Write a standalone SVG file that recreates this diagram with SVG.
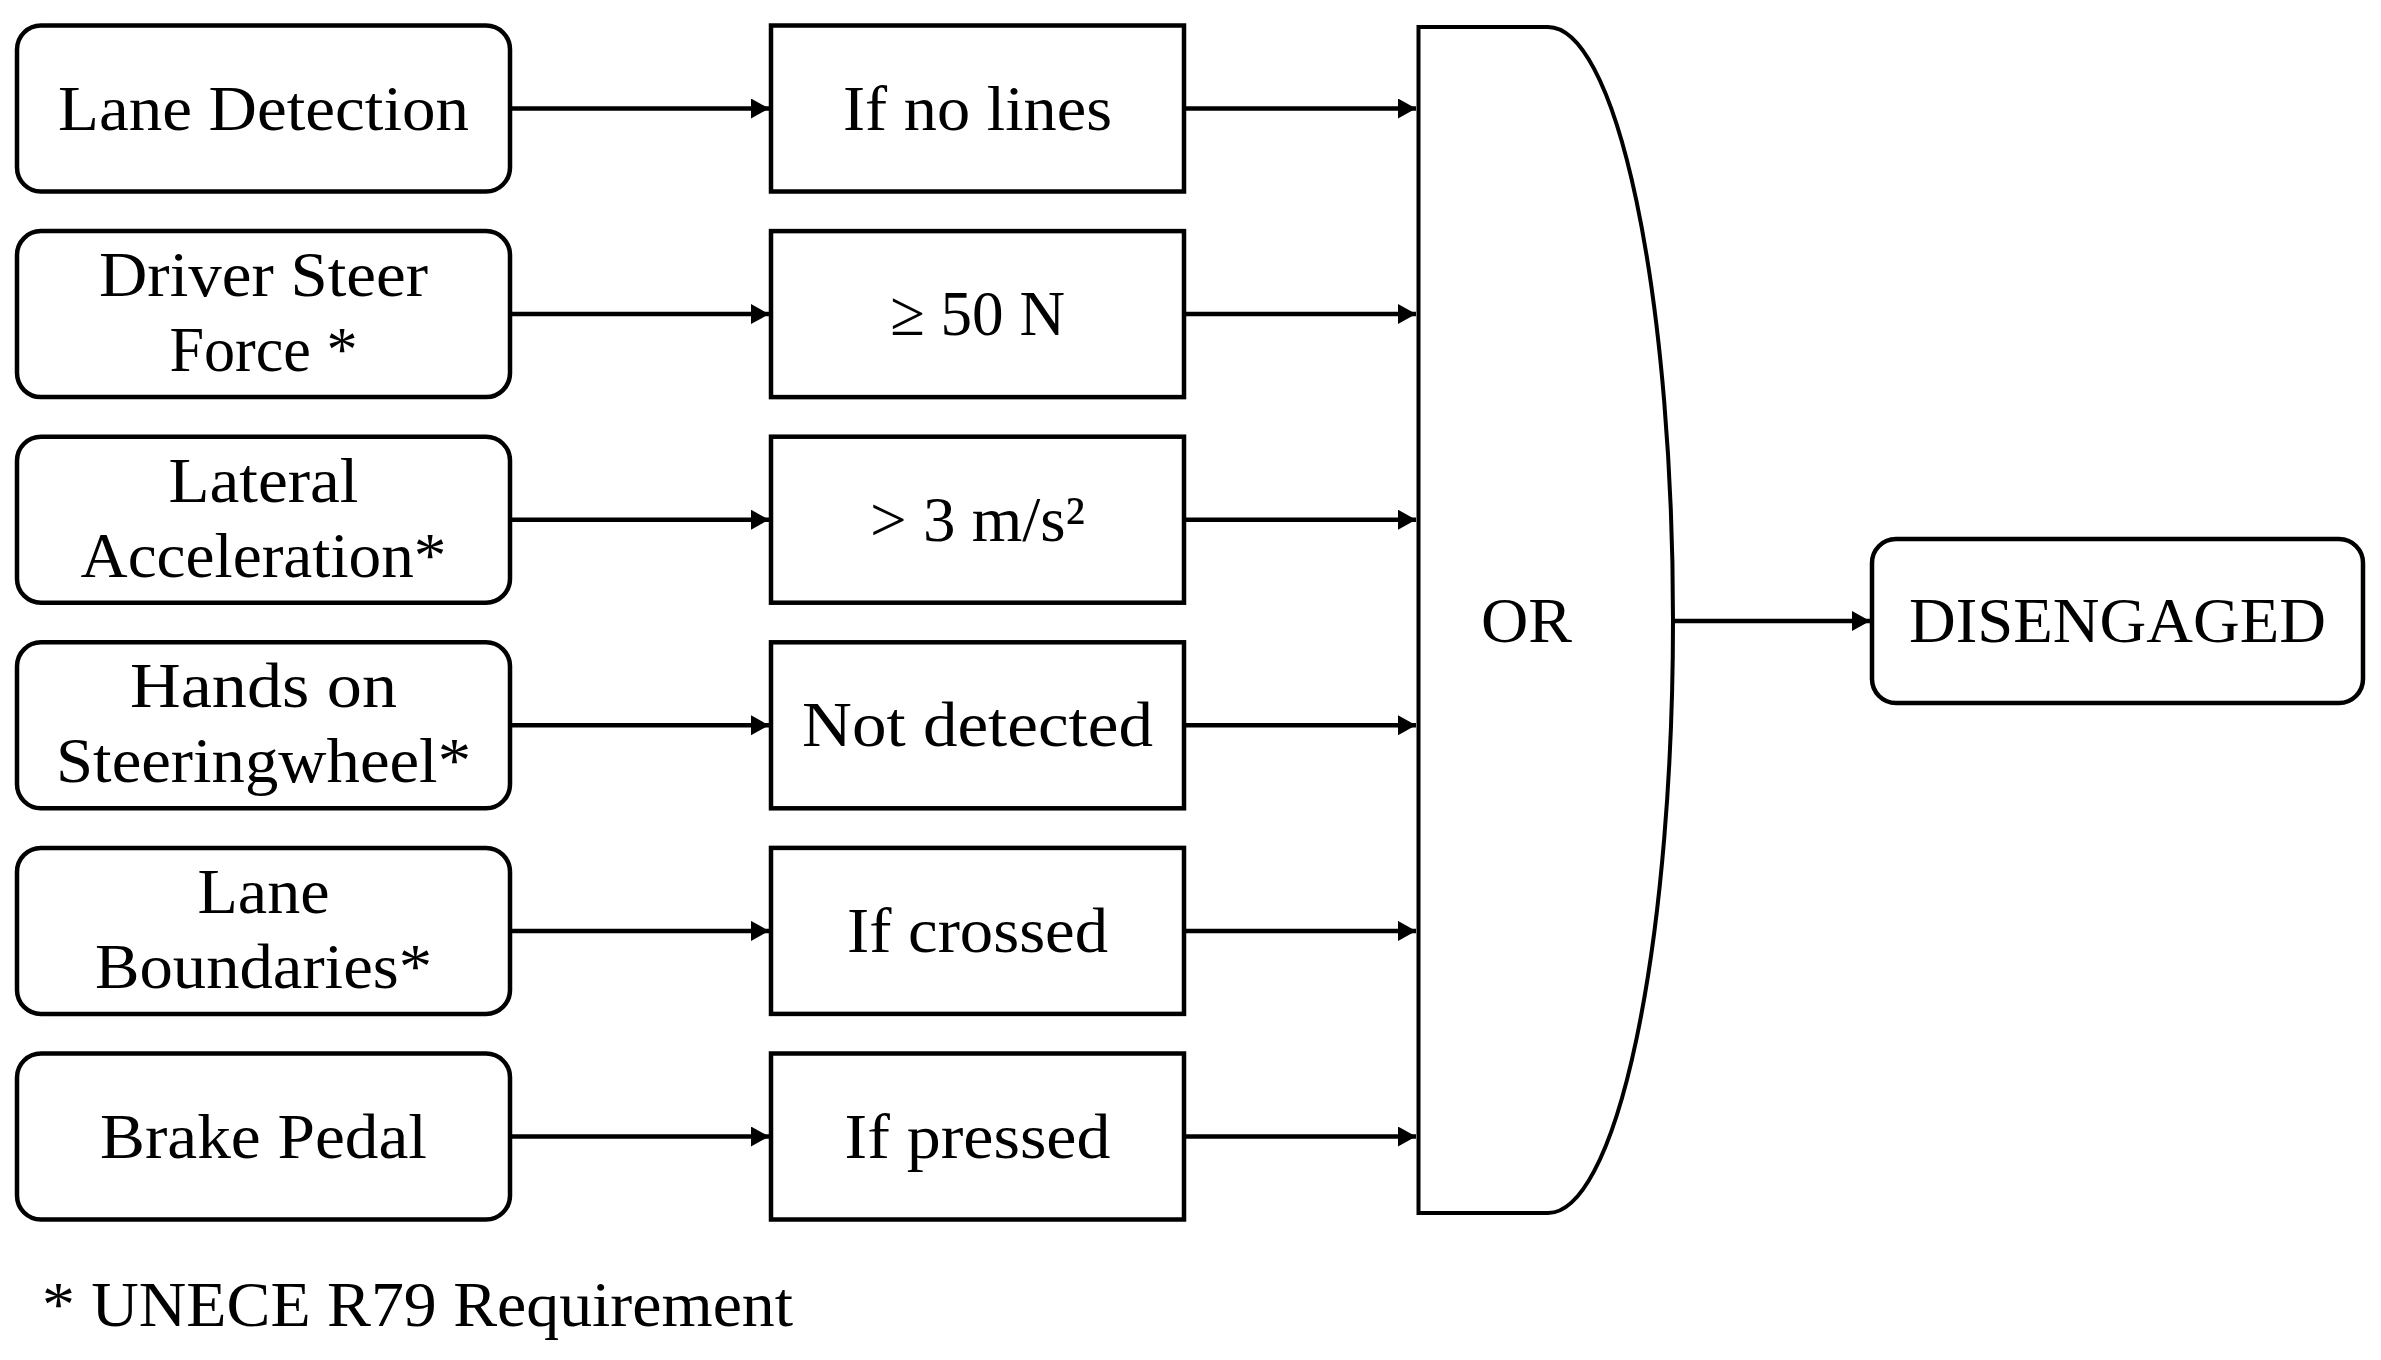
<svg xmlns="http://www.w3.org/2000/svg" width="2381" height="1360" viewBox="0 0 2381 1360">
<style>
  .bg{fill:#fff}
  .rbox{fill:#fff;stroke:#000;stroke-width:4.5}
  .sbox{fill:#fff;stroke:#000;stroke-width:4.5}
  .gate{fill:#fff;stroke:#000;stroke-width:4}
  .t{font-family:"Liberation Serif","Times New Roman",serif;font-size:64px;fill:#000;text-anchor:middle}
  .fn{font-family:"Liberation Serif","Times New Roman",serif;font-size:64px;fill:#000}
  .conn line{stroke:#000;stroke-width:4.5;fill:none}
</style>
<defs>
  <marker id="ah" markerUnits="userSpaceOnUse" markerWidth="20" markerHeight="22" refX="18" refY="10" orient="auto">
    <path d="M0,0 L18,10 L0,20 Z" fill="#000"/>
  </marker>
</defs>
<rect class="bg" x="0" y="0" width="2381" height="1360"/>

<g id="connectors" class="conn">
  <line x1="512" y1="108.5" x2="769" y2="108.5" marker-end="url(#ah)"/>
  <line x1="512" y1="314.1" x2="769" y2="314.1" marker-end="url(#ah)"/>
  <line x1="512" y1="519.7" x2="769" y2="519.7" marker-end="url(#ah)"/>
  <line x1="512" y1="725.3" x2="769" y2="725.3" marker-end="url(#ah)"/>
  <line x1="512" y1="930.9" x2="769" y2="930.9" marker-end="url(#ah)"/>
  <line x1="512" y1="1136.5" x2="769" y2="1136.5" marker-end="url(#ah)"/>
  <line x1="1186" y1="108.5" x2="1416" y2="108.5" marker-end="url(#ah)"/>
  <line x1="1186" y1="314.1" x2="1416" y2="314.1" marker-end="url(#ah)"/>
  <line x1="1186" y1="519.7" x2="1416" y2="519.7" marker-end="url(#ah)"/>
  <line x1="1186" y1="725.3" x2="1416" y2="725.3" marker-end="url(#ah)"/>
  <line x1="1186" y1="930.9" x2="1416" y2="930.9" marker-end="url(#ah)"/>
  <line x1="1186" y1="1136.5" x2="1416" y2="1136.5" marker-end="url(#ah)"/>
  <line x1="1675" y1="621" x2="1870" y2="621" marker-end="url(#ah)"/>
</g>

<g id="src-lane-detection">
  <rect class="rbox" x="17" y="25.5" width="493" height="166" rx="24"/>
  <text class="t" x="263.5" y="129.5" textLength="411" lengthAdjust="spacingAndGlyphs">Lane Detection</text>
</g>
<g id="src-driver-steer-force">
  <rect class="rbox" x="17" y="231.1" width="493" height="166" rx="24"/>
  <text class="t" x="263.5" y="296.1" textLength="329" lengthAdjust="spacingAndGlyphs">Driver Steer</text>
  <text class="t" x="263.5" y="371.1" textLength="188" lengthAdjust="spacingAndGlyphs">Force *</text>
</g>
<g id="src-lateral-acceleration">
  <rect class="rbox" x="17" y="436.7" width="493" height="166" rx="24"/>
  <text class="t" x="263.5" y="501.7" textLength="190" lengthAdjust="spacingAndGlyphs">Lateral</text>
  <text class="t" x="263.5" y="576.7" textLength="366" lengthAdjust="spacingAndGlyphs">Acceleration*</text>
</g>
<g id="src-hands-on-steeringwheel">
  <rect class="rbox" x="17" y="642.3" width="493" height="166" rx="24"/>
  <text class="t" x="263.5" y="707.3" textLength="267" lengthAdjust="spacingAndGlyphs">Hands on</text>
  <text class="t" x="263.5" y="782.3" textLength="415" lengthAdjust="spacingAndGlyphs">Steeringwheel*</text>
</g>
<g id="src-lane-boundaries">
  <rect class="rbox" x="17" y="847.9" width="493" height="166" rx="24"/>
  <text class="t" x="263.5" y="912.9" textLength="132" lengthAdjust="spacingAndGlyphs">Lane</text>
  <text class="t" x="263.5" y="987.9" textLength="337" lengthAdjust="spacingAndGlyphs">Boundaries*</text>
</g>
<g id="src-brake-pedal">
  <rect class="rbox" x="17" y="1053.5" width="493" height="166" rx="24"/>
  <text class="t" x="263.5" y="1157.5" textLength="327" lengthAdjust="spacingAndGlyphs">Brake Pedal</text>
</g>

<g id="cond-if-no-lines">
  <rect class="sbox" x="771" y="25.5" width="413" height="166"/>
  <text class="t" x="977.5" y="129.5" textLength="269" lengthAdjust="spacingAndGlyphs">If no lines</text>
</g>
<g id="cond-50n">
  <rect class="sbox" x="771" y="231.1" width="413" height="166"/>
  <text class="t" x="977.5" y="335.1" textLength="175" lengthAdjust="spacingAndGlyphs">≥ 50 N</text>
</g>
<g id="cond-3ms2">
  <rect class="sbox" x="771" y="436.7" width="413" height="166"/>
  <text class="t" x="977.5" y="540.7" textLength="215" lengthAdjust="spacingAndGlyphs">&gt; 3 m/s²</text>
</g>
<g id="cond-not-detected">
  <rect class="sbox" x="771" y="642.3" width="413" height="166"/>
  <text class="t" x="977.5" y="746.3" textLength="351" lengthAdjust="spacingAndGlyphs">Not detected</text>
</g>
<g id="cond-if-crossed">
  <rect class="sbox" x="771" y="847.9" width="413" height="166"/>
  <text class="t" x="977.5" y="951.9" textLength="261" lengthAdjust="spacingAndGlyphs">If crossed</text>
</g>
<g id="cond-if-pressed">
  <rect class="sbox" x="771" y="1053.5" width="413" height="166"/>
  <text class="t" x="977.5" y="1157.5" textLength="266" lengthAdjust="spacingAndGlyphs">If pressed</text>
</g>

<g id="or-gate">
  <path class="gate" d="M1418.5,27 H1548 A125,593 0 0 1 1548,1213 H1418.5 Z"/>
  <text class="t" x="1526.5" y="642" textLength="91" lengthAdjust="spacingAndGlyphs">OR</text>
</g>

<g id="disengaged">
  <rect class="rbox" x="1872" y="539" width="491" height="164" rx="24"/>
  <text class="t" x="2117.5" y="642" textLength="417" lengthAdjust="spacingAndGlyphs">DISENGAGED</text>
</g>

<text class="fn" x="42" y="1326" textLength="751" lengthAdjust="spacingAndGlyphs">* UNECE R79 Requirement</text>
</svg>
